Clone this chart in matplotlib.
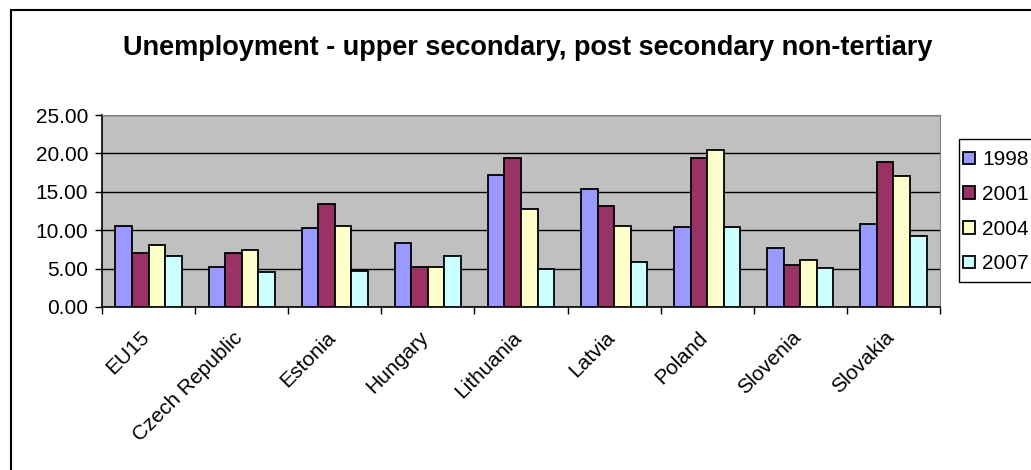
import matplotlib.pyplot as plt
import matplotlib.transforms as mtransforms
import numpy as np
from matplotlib.patches import Rectangle

# Data
countries = ['EU15', 'Czech Republic', 'Estonia', 'Hungary', 'Lithuania',
             'Latvia', 'Poland', 'Slovenia', 'Slovakia']
years = ['1998', '2001', '2004', '2007']
v1998 = [10.5, 5.2, 10.3, 8.35, 17.2, 15.3, 10.4, 7.7, 10.8]
v2001 = [7.0, 7.0, 13.4, 5.2, 19.45, 13.2, 19.45, 5.5, 18.85]
v2004 = [8.1, 7.4, 10.5, 5.2, 12.8, 10.5, 20.4, 6.1, 17.0]
v2007 = [6.6, 4.6, 4.75, 6.6, 5.0, 5.9, 10.4, 5.05, 9.3]
series = [v1998, v2001, v2004, v2007]
colors = ['#9999FF', '#993366', '#FFFFCC', '#CCFFFF']

plt.rcParams['font.family'] = ['Liberation Sans', 'DejaVu Sans']

W, H = 1031, 470
fig = plt.figure(figsize=(W / 100, H / 100), dpi=100)

# outer chart border (right/bottom run off the canvas)
fig.patches.append(Rectangle((11 / W, -0.1), 1.2, 1 - 10 / H + 0.1,
                             transform=fig.transFigure, fill=False,
                             edgecolor='black', linewidth=1.5))

ax = fig.add_axes([102 / W, 1 - 307 / H, 838 / W, 192 / H])
ax.set_facecolor('#C0C0C0')

x = np.arange(len(countries))
bw = 0.178
for i, (vals, c, yr) in enumerate(zip(series, colors, years)):
    ax.bar(x + (i - 1.5) * bw, vals, width=bw, color=c, edgecolor='black',
           linewidth=1.3, label=yr, zorder=3)

ax.set_xlim(-0.5, len(countries) - 0.5)
ax.set_ylim(0, 25)
ax.set_yticks(np.arange(0, 26, 5))
ax.set_yticklabels([f'{v:.2f}' for v in np.arange(0, 26, 5)], fontsize=15)
ax.yaxis.grid(True, color='black', linewidth=1, zorder=1)
ax.set_axisbelow(True)

ax.set_xticks(np.arange(-0.5, len(countries), 1))
ax.set_xticklabels([])
ax.set_xticks(x, minor=True)
ax.set_xticklabels(countries, minor=True, rotation=45, ha='right',
                   rotation_mode='anchor', fontsize=15)
ax.tick_params(axis='x', which='minor', length=0, pad=15)
ax.tick_params(axis='x', which='major', length=5, direction='out', width=1)
ax.tick_params(axis='y', length=5, direction='out', width=1, pad=5)
shift = mtransforms.ScaledTranslation(-9 / 100, 0, fig.dpi_scale_trans)
for lab in ax.get_xticklabels(minor=True):
    lab.set_transform(lab.get_transform() + shift)

for s in ['top', 'right']:
    ax.spines[s].set_color('#808080')
for s in ['left', 'bottom']:
    ax.spines[s].set_color('black')
    ax.spines[s].set_linewidth(1.2)

fig.text(528 / W, 1 - 48 / H,
         'Unemployment - upper secondary, post secondary non-tertiary',
         ha='center', va='center', fontsize=19.5, fontweight='bold')

# legend frame drawn separately so the entries can sit close to its left edge
fig.patches.append(Rectangle((959 / W, 1 - 282 / H), 0.2, 143 / H,
                             transform=fig.transFigure, fill=True,
                             facecolor='white', edgecolor='black',
                             linewidth=1, zorder=5))
leg = fig.legend(loc='upper left', bbox_to_anchor=(952 / W, 1 - 139 / H),
                 fontsize=15, frameon=False,
                 handlelength=0.55, handleheight=0.55, handletextpad=0.35,
                 labelspacing=0.75, borderaxespad=0, borderpad=0.55)
leg.set_zorder(6)

fig.savefig('out.png', dpi=100)
